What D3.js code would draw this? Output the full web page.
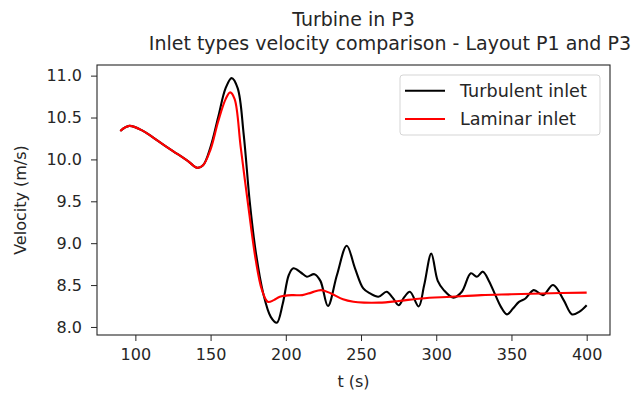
<!DOCTYPE html>
<html>
<head>
<meta charset="utf-8">
<script src="https://cdn.jsdelivr.net/npm/d3@7"></script>
<style>
  body { margin: 0; background: #fff; }
  text { font-family: "DejaVu Sans", sans-serif; fill: #262626; }
</style>
</head>
<body>
<div id="chart"></div>
<script>
// turbulent inlet (black)
var turbT = [90, 96, 105, 115, 125, 135, 141, 145, 150, 155, 160, 164, 168, 172, 176, 180, 185, 190, 194, 198, 202, 205, 210, 214, 219, 223, 228, 234, 240.5, 246, 251.5, 256, 261.5, 267, 271, 275, 278.5, 282.5, 288.3, 292, 296.7, 301, 305, 311.5, 317, 323, 327, 331, 335, 339.3, 343, 347, 351, 355, 359.3, 364.8, 371, 377.7, 384.7, 390.3, 395, 400];
var turbV = [10.34, 10.40, 10.34, 10.22, 10.10, 9.98, 9.90, 9.93, 10.15, 10.50, 10.85, 10.97, 10.85, 10.30, 9.50, 8.90, 8.40, 8.12, 8.05, 8.28, 8.62, 8.70, 8.65, 8.60, 8.63, 8.55, 8.25, 8.62, 8.97, 8.70, 8.46, 8.40, 8.36, 8.42, 8.35, 8.26, 8.35, 8.42, 8.245, 8.50, 8.875, 8.55, 8.44, 8.35, 8.42, 8.64, 8.60, 8.66, 8.55, 8.38, 8.24, 8.15, 8.22, 8.30, 8.34, 8.44, 8.38, 8.50, 8.32, 8.15, 8.18, 8.26];

// laminar inlet (red)
var lamT = [90, 96, 105, 115, 125, 135, 141, 145, 150, 155, 160, 163, 166, 170, 175, 180, 184, 188, 192, 196, 204, 211, 217, 223.5, 230, 238, 245, 252, 262, 275, 290, 310, 330, 350, 370, 400];
var lamV = [10.34, 10.40, 10.34, 10.22, 10.10, 9.98, 9.90, 9.93, 10.12, 10.45, 10.72, 10.80, 10.72, 10.15, 9.45, 8.80, 8.45, 8.30, 8.32, 8.36, 8.38, 8.38, 8.41, 8.44, 8.40, 8.33, 8.30, 8.29, 8.29, 8.31, 8.34, 8.36, 8.38, 8.39, 8.40, 8.41];

var xTicks = [100, 150, 200, 250, 300, 350, 400];
var yTicks = [8.0, 8.5, 9.0, 9.5, 10.0, 10.5, 11.0];
var seriesNames = ["Turbulent inlet", "Laminar inlet"];
var seriesColors = ["#000000", "#ff0000"];

var width = 633, height = 394;
var margin = {left: 97, right: 23, top: 65, bottom: 59};

var svg = d3.select("#chart").append("svg")
    .attr("width", width).attr("height", height);

var x = d3.scaleLinear().domain([74.5, 415.5]).range([margin.left, width - margin.right]);
var y = d3.scaleLinear().domain([7.904, 11.127]).range([height - margin.bottom, margin.top]);

var xAxis = svg.append("g")
    .attr("transform", "translate(0," + (height - margin.bottom) + ")")
    .call(d3.axisBottom(x).tickValues(xTicks).tickSize(6).tickPadding(8).tickFormat(d3.format("d")));
var yAxis = svg.append("g")
    .attr("transform", "translate(" + margin.left + ",0)")
    .call(d3.axisLeft(y).tickValues(yTicks).tickSize(6).tickPadding(9).tickFormat(d3.format(".1f")));

[xAxis, yAxis].forEach(function(a) {
    a.select(".domain").remove();
    a.selectAll("line").attr("stroke", "#262626").attr("stroke-width", 1);
    a.selectAll("text").style("font-size", "16px").attr("fill", "#262626");
});

// the lines
var series = [{t: turbT, v: turbV}, {t: lamT, v: lamV}];
var line = d3.line()
    .x(function(d) { return x(d[0]); })
    .y(function(d) { return y(d[1]); })
    .curve(d3.curveCatmullRom.alpha(0.5));

series.forEach(function(s, i) {
    var pts = s.t.map(function(t, j) { return [t, s.v[j]]; });
    svg.append("path").datum(pts)
        .attr("d", line)
        .attr("fill", "none")
        .attr("stroke", seriesColors[i])
        .attr("stroke-width", 2.1)
        .attr("stroke-linejoin", "round");
});

// frame
svg.append("rect")
    .attr("x", margin.left).attr("y", margin.top)
    .attr("width", width - margin.left - margin.right)
    .attr("height", height - margin.top - margin.bottom)
    .attr("fill", "none").attr("stroke", "#262626").attr("stroke-width", 1.1);

// titles
var cx = (margin.left + width - margin.right) / 2;
svg.append("text").attr("x", cx).attr("y", 26)
    .attr("text-anchor", "middle").style("font-size", "19px").text("Turbine in P3");
svg.append("text").attr("x", 631).attr("y", 50)
    .attr("text-anchor", "end").style("font-size", "19px")
    .text("Inlet types velocity comparison - Layout P1 and P3");

svg.append("text").attr("x", cx).attr("y", 387)
    .attr("text-anchor", "middle").style("font-size", "16px").text("t (s)");
svg.append("text")
    .attr("transform", "translate(26," + ((margin.top + height - margin.bottom) / 2) + ") rotate(-90)")
    .attr("text-anchor", "middle").style("font-size", "16px").text("Velocity (m/s)");

// legend
var lg = svg.append("g").attr("transform", "translate(400,75)");
lg.append("rect").attr("width", 200).attr("height", 60).attr("rx", 3)
    .attr("fill", "#fff").attr("fill-opacity", 0.8)
    .attr("stroke", "#d5d5d5").attr("stroke-width", 1);
var items = lg.selectAll(".item").data(seriesNames).enter().append("g")
    .attr("transform", function(d, i) { return "translate(0," + (15.7 + i * 28.3) + ")"; });
items.append("line").attr("x1", 5).attr("x2", 45).attr("y1", 0).attr("y2", 0)
    .attr("stroke", function(d, i) { return seriesColors[i]; }).attr("stroke-width", 2.1);
items.append("text").attr("x", 60).attr("y", 6).style("font-size", "17.6px").text(function(d) { return d; });
</script>
</body>
</html>
